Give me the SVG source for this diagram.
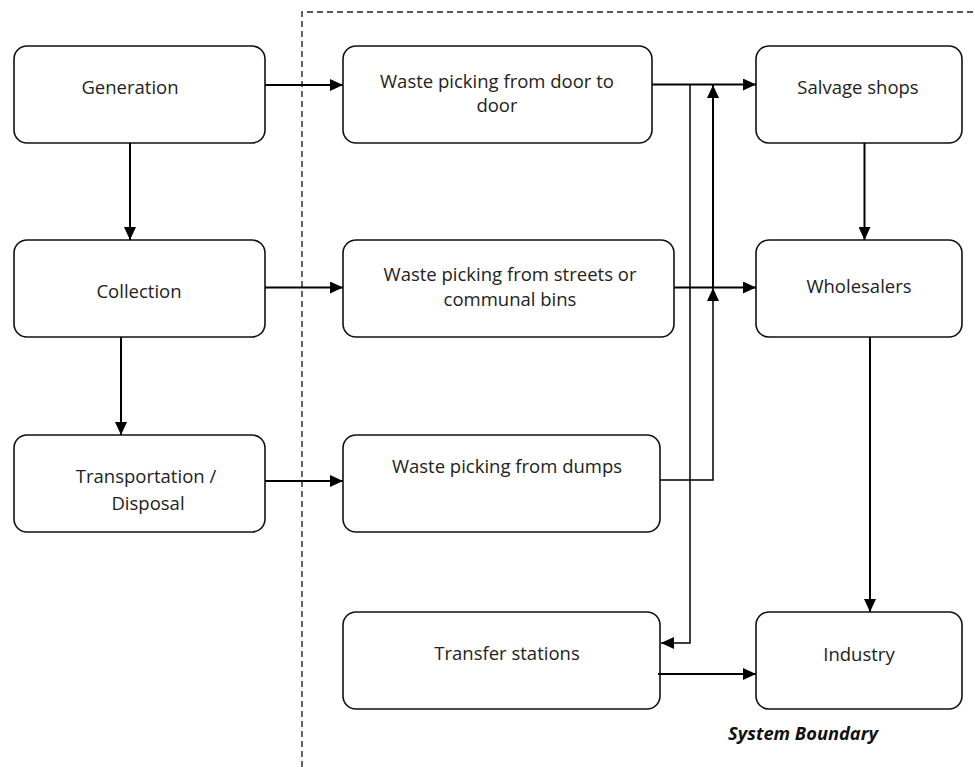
<svg xmlns="http://www.w3.org/2000/svg" width="975" height="767" viewBox="0 0 975 767">
<defs>
<style>
.box{fill:#fff;stroke:#111;stroke-width:1.6}
.lbl{font-family:"Open Sans","Liberation Sans",sans-serif;font-size:18.5px;fill:#222;text-anchor:middle}
.ttl{font-family:"Open Sans","Liberation Sans",sans-serif;font-size:18.3px;font-weight:bold;font-style:italic;fill:#111;text-anchor:middle}
.c{fill:none;stroke:#000;stroke-width:2}
.c1{fill:none;stroke:#000;stroke-width:1.5}
.bnd{fill:none;stroke:#222;stroke-width:1.4;stroke-dasharray:6 4}
</style>
<marker id="ah" viewBox="0 0 13 12" refX="13" refY="6" markerWidth="13" markerHeight="12" markerUnits="userSpaceOnUse" orient="auto">
<path d="M0,0 L13,6 L0,12 Z" fill="#000"/>
</marker>
</defs>
<rect width="975" height="767" fill="#fff"/>
<g id="boundary">
<path class="bnd" d="M302,767 V12 H975"/>
<text class="ttl" x="803" y="740">System Boundary</text>
</g>
<g id="generation"><rect class="box" x="14" y="46" width="251" height="97" rx="13"/><text class="lbl" x="130" y="94">Generation</text></g>
<g id="collection"><rect class="box" x="14" y="240" width="251" height="97" rx="13"/><text class="lbl" x="139" y="298">Collection</text></g>
<g id="transportation"><rect class="box" x="14" y="435" width="251" height="97" rx="13"/><text class="lbl" x="146" y="483">Transportation /</text><text class="lbl" x="148" y="510">Disposal</text></g>
<g id="door"><rect class="box" x="343" y="46" width="309" height="97" rx="13"/><text class="lbl" x="497" y="88">Waste picking from door to</text><text class="lbl" x="497" y="112">door</text></g>
<g id="streets"><rect class="box" x="343" y="240" width="331" height="97" rx="13"/><text class="lbl" x="510" y="281">Waste picking from streets or</text><text class="lbl" x="510" y="306">communal bins</text></g>
<g id="dumps"><rect class="box" x="343" y="435" width="317" height="97" rx="13"/><text class="lbl" x="507" y="473">Waste picking from dumps</text></g>
<g id="transfer"><rect class="box" x="343" y="612" width="317" height="97" rx="13"/><text class="lbl" x="507" y="660">Transfer stations</text></g>
<g id="salvage"><rect class="box" x="756" y="46" width="206" height="97" rx="13"/><text class="lbl" x="858" y="94">Salvage shops</text></g>
<g id="wholesalers"><rect class="box" x="756" y="240" width="206" height="97" rx="13"/><text class="lbl" x="859" y="293">Wholesalers</text></g>
<g id="industry"><rect class="box" x="756" y="612" width="206" height="97" rx="13"/><text class="lbl" x="859" y="661">Industry</text></g>
<g id="connectors">
<path class="c" d="M265,85 H343" marker-end="url(#ah)"/>
<path class="c" d="M265,287.5 H343" marker-end="url(#ah)"/>
<path class="c" d="M265,481 H343" marker-end="url(#ah)"/>
<path class="c" d="M130,143 V240" marker-end="url(#ah)"/>
<path class="c" d="M121,337 V435" marker-end="url(#ah)"/>
<path class="c" d="M652,84.5 H756" marker-end="url(#ah)"/>
<path class="c" d="M674,287.5 H756" marker-end="url(#ah)"/>
<path class="c1" d="M660,480 H713 V288" marker-end="url(#ah)"/>
<path class="c" d="M713,288 V85" marker-end="url(#ah)"/>
<path class="c1" d="M690,84.5 V643 H661" marker-end="url(#ah)"/>
<path class="c" d="M658,674 H756" marker-end="url(#ah)"/>
<path class="c" d="M864.5,143 V240" marker-end="url(#ah)"/>
<path class="c" d="M870,337 V612" marker-end="url(#ah)"/>
</g>
</svg>
